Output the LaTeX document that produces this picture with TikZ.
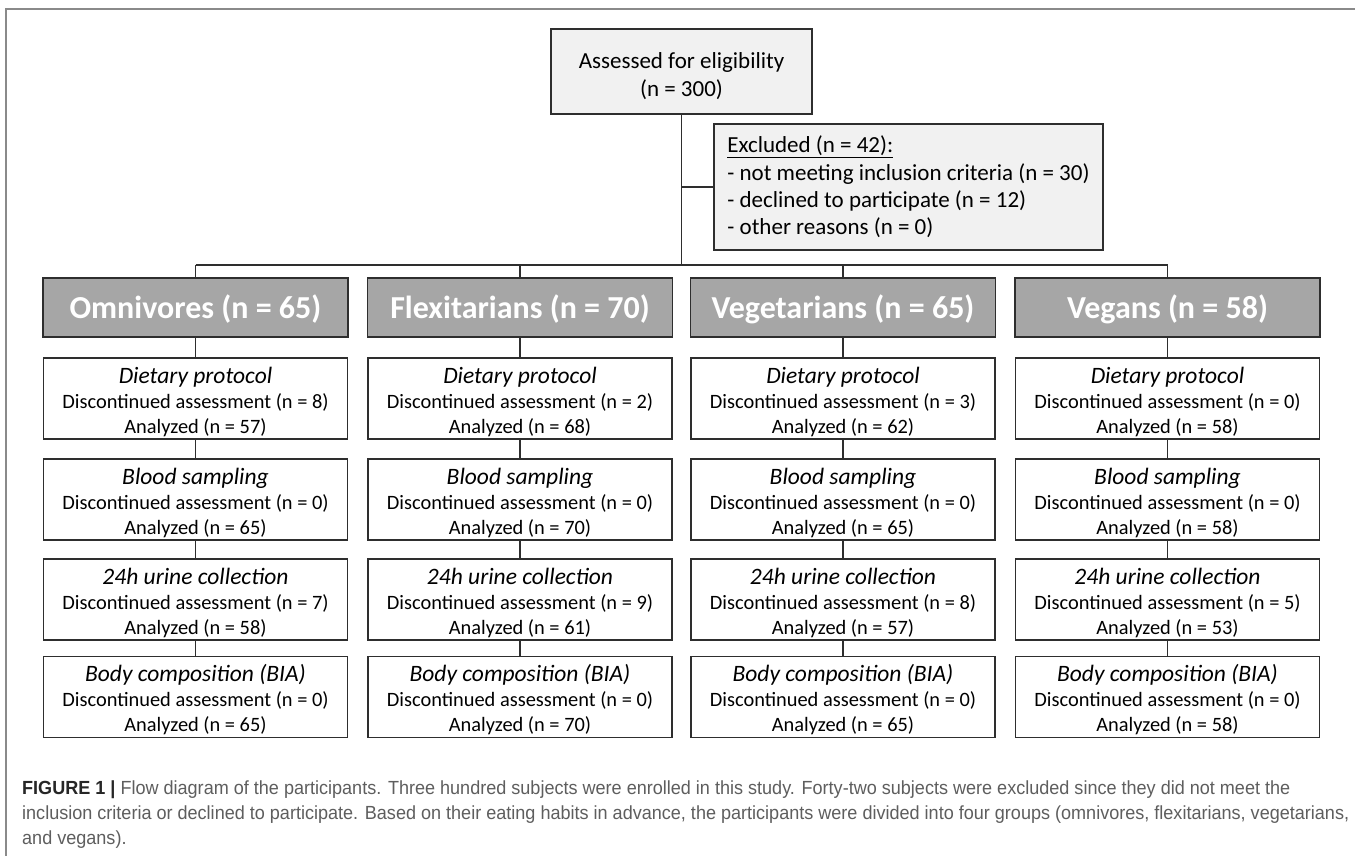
\documentclass[tikz,border=0pt]{standalone}
\usepackage{fontspec}
\setmainfont{Carlito}
\newfontfamily\capfont{Liberation Sans}[FakeStretch=0.95]
\definecolor{hdrfill}{HTML}{A6A6A6}
\definecolor{lightfill}{HTML}{F1F1F1}
\definecolor{framegray}{HTML}{8A8A8A}
\definecolor{capgray}{HTML}{5E5E5E}
\definecolor{edgegray}{HTML}{2E2E2E}
\newcommand{\stitle}[1]{{\fontsize{23.5}{27}\selectfont\itshape\rule{0pt}{22.5pt}#1}}
\tikzset{
  stagebox/.style={draw=edgegray, line width=1.3pt, fill=white, minimum width=304pt, minimum height=81pt, inner sep=0pt, align=center, font=\fontsize{20.4}{25}\selectfont},
  grouphdr/.style={draw=edgegray, line width=1.3pt, fill=hdrfill, minimum width=305pt, minimum height=59pt, inner sep=0pt, text height=25pt, text depth=3pt, text=white, font=\fontsize{32}{34}\selectfont\bfseries},
  topbox/.style={draw=edgegray, line width=1.3pt, fill=lightfill, inner sep=0pt},
  conn/.style={draw=edgegray, line width=1.1pt},
  captxt/.style={anchor=base west, inner sep=0pt, text=capgray, font=\capfont\fontsize{19}{22}\selectfont}
}
\begin{document}
\begin{tikzpicture}[x=1pt,y=-1pt]
\useasboundingbox (0,0) rectangle (1355,856);
\fill[white] (0,0) rectangle (1355,856);
\draw[framegray, line width=1.6pt] (1355,9) -- (6,9) -- (6,856);

% top boxes
\node[topbox, minimum width=261pt, minimum height=85pt, align=center, font=\fontsize{23}{28}\selectfont] (assess) at (681.5,71.5) {\rule{0pt}{25pt}Assessed for eligibility\\(n = 300)};
\node[topbox, minimum width=389pt, minimum height=126pt, align=left, font=\fontsize{23}{27.3}\selectfont] (excl) at (908.5,187) {\underline{Excluded (n = 42):}\\- not meeting inclusion criteria (n = 30)\\- declined to participate (n = 12)\\- other reasons (n = 0)};

% group headers
\node[grouphdr] (h1) at (195.5,307.5) {Omnivores (n = 65)};
\node[grouphdr] (h2) at (520,307.5) {Flexitarians (n = 70)};
\node[grouphdr] (h3) at (843,307.5) {Vegetarians (n = 65)};
\node[grouphdr] (h4) at (1167.5,307.5) {Vegans (n = 58)};

% connectors from top
\coordinate (bus) at (681.5,265);
\draw[conn] (assess.south) -- (bus);
\draw[conn] (assess.south |- excl.west) -- (excl.west);
\draw[conn] (h1.north |- bus) -- (h4.north |- bus);
\foreach \h in {h1,h2,h3,h4} {\draw[conn] (\h.north |- bus) -- (\h.north);}

% stage boxes
\foreach \c/\x/\da/\dn/\ua/\un/\bn in {1/195.5/8/57/7/58/65, 2/520/2/68/9/61/70, 3/843/3/62/8/57/65, 4/1167.5/0/58/5/53/58} {
  \node[stagebox] (d\c) at (\x,398.5) {\stitle{Dietary protocol}\\Discontinued assessment (n = \da)\\Analyzed (n = \dn)};
  \node[stagebox] (b\c) at (\x,499.5) {\stitle{Blood sampling}\\Discontinued assessment (n = 0)\\Analyzed (n = \bn)};
  \node[stagebox] (u\c) at (\x,599.5) {\stitle{24h urine collection}\\Discontinued assessment (n = \ua)\\Analyzed (n = \un)};
  \node[stagebox] (c\c) at (\x,697) {\stitle{Body composition (BIA)}\\Discontinued assessment (n = 0)\\Analyzed (n = \bn)};
  \draw[conn] (h\c) -- (d\c);
  \draw[conn] (d\c) -- (b\c);
  \draw[conn] (b\c) -- (u\c);
  \draw[conn] (u\c) -- (c\c);
}

% caption
\node[captxt] (cap1) at (22,794) {{\bfseries\color{black!85}FIGURE 1 |} Flow diagram of the participants. Three hundred subjects were enrolled in this study. Forty-two subjects were excluded since they did not meet the};
\node[captxt] (cap2) at (22,819) {inclusion criteria or declined to participate. Based on their eating habits in advance, the participants were divided into four groups (omnivores, flexitarians, vegetarians,};
\node[captxt] (cap3) at (22,844) {and vegans).};
\end{tikzpicture}
\end{document}
